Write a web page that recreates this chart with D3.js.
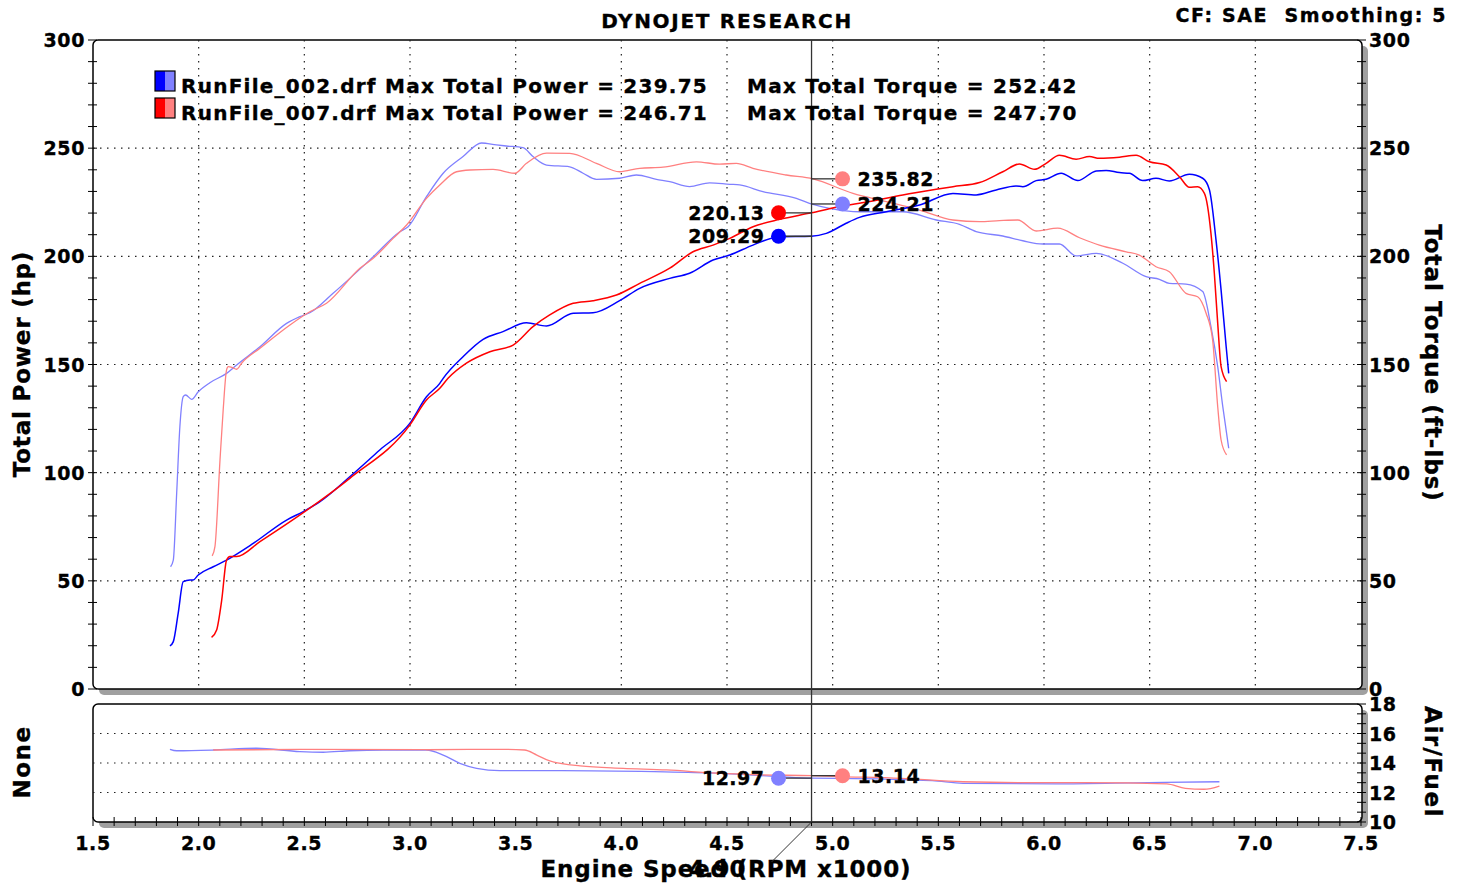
<!DOCTYPE html>
<html><head><meta charset="utf-8">
<script src="https://cdn.jsdelivr.net/npm/d3@7"></script>
<style>
body{margin:0;background:#fff;}
svg text{font-family:"DejaVu Sans",Verdana,sans-serif;font-weight:bold;fill:#000;stroke:#000;stroke-width:0.35px;}
</style>
</head><body>
<svg id="c" width="1465" height="884"></svg>
<script>
// ---------------- DATA ----------------
const xTickLabels = ["1.5","2.0","2.5","3.0","3.5","4.0","4.5","5.0","5.5","6.0","6.5","7.0","7.5"];
const powerTicks = [0,50,100,150,200,250,300];
const afrTicks = [10,12,14,16,18];
const cursorRpm = 4.90;

// Run 002 – Total Power (hp)
const run002PowerRpm = [1.864,1.880,1.903,1.927,1.959,1.974,1.998,2.069,2.132,2.258,2.416,2.495,2.574,2.715,2.857,2.999,3.078,3.141,3.157,3.251,3.346,3.440,3.551,3.646,3.772,3.866,3.992,4.087,4.229,4.323,4.434,4.513,4.623,4.749,4.899,4.970,5.064,5.127,5.254,5.411,5.569,5.679,5.774,5.868,5.900,5.963,6.010,6.081,6.160,6.247,6.294,6.357,6.404,6.467,6.530,6.593,6.688,6.751,6.783,6.814,6.838,6.862,6.874];
const run002Power    = [19.9,21.9,35.0,49.6,50.4,50.4,52.7,56.5,59.6,67.3,78.1,82.0,86.6,98.1,110.5,122.8,135.1,141.3,143.6,153.6,161.6,165.2,169.3,167.8,173.7,173.9,179.5,185.2,189.8,192.2,198.3,200.6,205.2,209.1,209.3,210.6,215.3,218.0,220.6,223.7,229.1,228.4,230.7,232.5,232.2,235.0,235.6,238.4,235.0,239.5,239.7,238.7,238.4,235.0,236.1,234.8,237.9,236.1,230.7,207.5,184.4,158.2,145.9];

// Run 007 – Total Power (hp)
const run007PowerRpm = [2.061,2.085,2.109,2.132,2.148,2.180,2.290,2.495,2.715,2.999,3.078,3.141,3.180,3.267,3.378,3.488,3.582,3.661,3.772,3.866,3.977,4.087,4.229,4.339,4.434,4.513,4.623,4.749,4.899,5.017,5.175,5.332,5.490,5.569,5.695,5.805,5.884,5.955,6.010,6.073,6.152,6.215,6.262,6.357,6.436,6.499,6.578,6.641,6.688,6.727,6.759,6.790,6.806,6.822,6.838,6.864];
const run007Power    = [23.9,27.3,41.1,59.6,61.2,61.2,68.1,81.5,97.4,122.0,133.6,139.0,143.6,150.6,155.9,159.0,167.5,172.9,178.3,179.5,182.1,187.5,194.5,202.1,205.2,208.3,213.7,217.1,220.1,222.7,225.3,228.4,231.0,232.2,234.1,239.1,242.7,240.2,243.0,246.7,244.9,246.1,245.3,245.8,246.7,243.7,242.2,236.8,231.9,232.2,229.1,210.6,192.2,169.0,149.0,142.1];

// Run 002 – Total Torque (ft-lbs)
const run002TorqueRpm = [1.867,1.880,1.896,1.911,1.927,1.938,1.967,1.998,2.053,2.132,2.180,2.290,2.416,2.479,2.526,2.636,2.826,2.952,2.991,3.078,3.157,3.251,3.338,3.409,3.456,3.535,3.582,3.646,3.756,3.819,3.882,3.992,4.071,4.166,4.229,4.323,4.418,4.513,4.560,4.670,4.828,4.907,4.985,5.127,5.332,5.490,5.600,5.679,5.805,5.900,5.994,6.073,6.152,6.247,6.373,6.483,6.546,6.593,6.672,6.751,6.790,6.822,6.846,6.874];
const run002Torque    = [56.5,59.6,90.6,121.1,135.1,135.9,133.9,137.4,141.6,145.9,149.8,158.2,169.0,172.1,173.9,182.9,199.8,211.4,213.7,227.6,238.4,246.1,252.4,251.5,251.0,250.2,246.1,242.2,241.4,238.4,235.6,236.1,237.6,235.6,234.5,232.2,234.0,233.3,233.0,229.9,226.8,224.0,222.2,220.6,220.6,216.8,214.8,211.4,209.4,207.2,205.7,205.7,200.2,201.4,196.8,190.6,189.4,187.5,187.2,183.7,167.5,149.0,130.5,111.3];

// Run 007 – Total Torque (ft-lbs)
const run007TorqueRpm = [2.064,2.077,2.101,2.116,2.132,2.140,2.156,2.180,2.203,2.290,2.432,2.526,2.605,2.763,2.826,2.920,2.984,3.078,3.141,3.220,3.283,3.393,3.496,3.551,3.646,3.756,3.882,3.992,4.087,4.197,4.355,4.465,4.544,4.623,4.781,4.907,5.096,5.254,5.411,5.569,5.695,5.789,5.876,5.963,6.065,6.168,6.262,6.389,6.451,6.530,6.593,6.672,6.727,6.767,6.798,6.822,6.838,6.864];
const run007Torque    = [61.5,65.8,105.9,129.0,147.5,149.0,148.7,147.8,150.6,157.5,168.3,174.4,178.3,194.5,199.1,208.3,214.5,226.8,233.0,239.1,239.9,240.2,238.4,243.0,247.7,247.6,243.0,239.1,240.7,241.2,243.7,242.6,243.0,240.7,237.6,235.8,229.1,225.3,221.4,216.8,216.0,216.5,216.8,211.7,213.0,208.6,205.2,202.1,200.6,195.2,192.9,182.9,181.3,173.7,161.3,130.5,115.1,108.2];

// Air/Fuel
const run002AfrRpm = [1.864,1.896,2.069,2.274,2.479,2.589,2.715,2.873,3.078,3.157,3.236,3.315,3.425,3.717,4.156,4.448,4.740,4.900,5.032,5.471,5.617,6.055,6.494,6.830];
const run002Afr    = [14.93,14.83,14.88,15.00,14.77,14.73,14.83,14.88,14.88,14.54,13.98,13.64,13.48,13.48,13.41,13.31,13.08,12.97,12.96,12.80,12.62,12.58,12.67,12.73];
const run007AfrRpm = [2.069,2.479,3.078,3.425,3.542,3.600,3.658,3.805,4.009,4.214,4.448,4.653,4.900,5.032,5.324,5.617,5.909,6.201,6.581,6.669,6.757,6.830];
const run007Afr    = [14.88,14.92,14.90,14.93,14.88,14.54,14.16,13.80,13.64,13.53,13.31,13.20,13.14,13.08,12.96,12.73,12.67,12.67,12.58,12.28,12.22,12.44];

const legendNames = ["RunFile_002.drf","RunFile_007.drf"];
const maxPower = ["239.75","246.71"];
const maxTorque = ["252.42","247.70"];
const cursorPower = ["209.29","220.13"];
const cursorTorque = ["224.21","235.82"];
const cursorAfr = ["12.97","13.14"];
const cursorPowerVal = [209.29,220.13];
const cursorTorqueVal = [224.21,235.82];
const cursorAfrVal = [12.97,13.14];

const dark = ["#0000ff","#ff0000"];
const light = ["#8080ff","#ff8080"];

// ---------------- DRAW ----------------
const svg = d3.select("#c");
const L = 93, R = 1362, T = 40, B = 689, T2 = 704, B2 = 822;
const x = d3.scaleLinear().domain([1.5,7.5]).range([L,1361]);
const y = d3.scaleLinear().domain([0,300]).range([B,T]);
const ya = d3.scaleLinear().domain([10,18]).range([B2,T2]);

function panel(y0,y1){
  svg.append("rect").attr("x",L+6).attr("y",y0+6).attr("width",R-L).attr("height",y1-y0)
    .attr("rx",5).attr("fill","#a0a0a0");
  svg.append("rect").attr("x",L).attr("y",y0).attr("width",R-L).attr("height",y1-y0)
    .attr("rx",5).attr("fill","#fff").attr("stroke","#000").attr("stroke-width",1.5);
}
panel(T,B);
panel(T2,B2);

const dots = "1.5,5.5";
[50,100,150,200,250].forEach(v=>{
  svg.append("line").attr("x1",L).attr("x2",R).attr("y1",y(v)).attr("y2",y(v))
    .attr("stroke","#222").attr("stroke-width",1.2).attr("stroke-dasharray",dots);
});
d3.range(2.0,7.01,0.5).forEach(v=>{
  svg.append("line").attr("x1",x(v)).attr("x2",x(v)).attr("y1",T).attr("y2",B)
    .attr("stroke","#222").attr("stroke-width",1.2).attr("stroke-dasharray",dots);
});
[12,14,16].forEach(v=>{
  svg.append("line").attr("x1",L).attr("x2",R).attr("y1",ya(v)).attr("y2",ya(v))
    .attr("stroke","#222").attr("stroke-width",1.2).attr("stroke-dasharray",dots);
});

// ticks
d3.range(0,301,10).forEach(v=>{
  svg.append("line").attr("x1",L-5).attr("x2",L+4).attr("y1",y(v)).attr("y2",y(v)).attr("stroke","#000").attr("stroke-width",1);
  svg.append("line").attr("x1",R-5).attr("x2",R+4).attr("y1",y(v)).attr("y2",y(v)).attr("stroke","#000").attr("stroke-width",1);
});
d3.range(0,13).forEach(i=>{
  const v = 10 + i*8/12;
  svg.append("line").attr("x1",R-5).attr("x2",R+4).attr("y1",ya(v)).attr("y2",ya(v)).attr("stroke","#000").attr("stroke-width",1);
});
d3.range(0,61).forEach(i=>{
  const v = 1.5 + i*0.1;
  svg.append("line").attr("x1",x(v)).attr("x2",x(v)).attr("y1",B2-5).attr("y2",B2+4).attr("stroke","#000").attr("stroke-width",1);
});

// axis labels
svg.append("g").selectAll("text").data(powerTicks).join("text")
  .attr("x",85).attr("y",d=>y(d)).attr("text-anchor","end").attr("dominant-baseline","central")
  .attr("font-size",19).attr("letter-spacing",0.6).text(d=>d);
svg.append("g").selectAll("text").data(powerTicks).join("text")
  .attr("x",1369).attr("y",d=>y(d)).attr("text-anchor","start").attr("dominant-baseline","central")
  .attr("font-size",19).attr("letter-spacing",0.6).text(d=>d);
svg.append("g").selectAll("text").data(afrTicks).join("text")
  .attr("x",1369).attr("y",d=>ya(d)).attr("text-anchor","start").attr("dominant-baseline","central")
  .attr("font-size",19).attr("letter-spacing",0.6).text(d=>d);
svg.append("g").selectAll("text").data(xTickLabels).join("text")
  .attr("x",d=>x(+d)).attr("y",850).attr("text-anchor","middle")
  .attr("font-size",19).attr("letter-spacing",0.6).text(d=>d);

svg.append("text").attr("transform","translate(30,364) rotate(-90)").attr("text-anchor","middle")
  .attr("font-size",23).attr("letter-spacing",0.8).text("Total Power (hp)");
svg.append("text").attr("transform","translate(1425,363) rotate(90)").attr("text-anchor","middle")
  .attr("font-size",23).attr("letter-spacing",1).text("Total Torque (ft-lbs)");
svg.append("text").attr("transform","translate(30,762) rotate(-90)").attr("text-anchor","middle")
  .attr("font-size",23).attr("letter-spacing",1.5).text("None");
svg.append("text").attr("transform","translate(1425,762) rotate(90)").attr("text-anchor","middle")
  .attr("font-size",23).attr("letter-spacing",1.5).text("Air/Fuel");
svg.append("text").attr("x",726).attr("y",877).attr("text-anchor","middle")
  .attr("font-size",23).attr("letter-spacing",0.85).text("Engine Speed (RPM x1000)");

// title & header
svg.append("text").attr("x",727).attr("y",28).attr("text-anchor","middle").attr("font-size",20).attr("letter-spacing",1.7).text("DYNOJET RESEARCH");
svg.append("text").attr("x",1447).attr("y",22).attr("text-anchor","end").attr("font-size",19).attr("letter-spacing",1.6).attr("xml:space","preserve").text("CF: SAE  Smoothing: 5");

// curves
const line = d3.line().curve(d3.curveMonotoneX);
function curve(rs, vs, ys, color, w){
  const pts = rs.map((r,i)=>[x(r), ys(vs[i])]);
  svg.append("path").attr("d",line(pts)).attr("fill","none").attr("stroke",color).attr("stroke-width",w);
}
curve(run002TorqueRpm, run002Torque, y, light[0], 1.3);
curve(run007TorqueRpm, run007Torque, y, light[1], 1.3);
curve(run002PowerRpm, run002Power, y, dark[0], 1.5);
curve(run007PowerRpm, run007Power, y, dark[1], 1.5);
curve(run002AfrRpm, run002Afr, ya, light[0], 1.3);
curve(run007AfrRpm, run007Afr, ya, light[1], 1.3);

// cursor
const cx = x(cursorRpm);
svg.append("line").attr("x1",cx).attr("x2",cx).attr("y1",T).attr("y2",B2).attr("stroke","#333").attr("stroke-width",1.3);
svg.append("line").attr("x1",cx).attr("x2",cx-40).attr("y1",B2).attr("y2",862).attr("stroke","#333").attr("stroke-width",1);
svg.append("text").attr("x",cx-66).attr("y",877).attr("text-anchor","end").attr("font-size",23).text(cursorRpm.toFixed(2));

function marker(val, ys, side, color, label){
  const my = ys(val);
  const mx = side<0 ? cx-33 : cx+31;
  svg.append("line").attr("x1",mx).attr("x2",cx).attr("y1",my).attr("y2",my).attr("stroke","#333").attr("stroke-width",1.3);
  svg.append("circle").attr("cx",mx).attr("cy",my).attr("r",7.5).attr("fill",color);
  svg.append("text").attr("x",side<0 ? mx-14 : mx+15).attr("y",my)
    .attr("text-anchor",side<0 ? "end" : "start").attr("dominant-baseline","central")
    .attr("font-size",19).attr("letter-spacing",0.5).text(label);
}
marker(cursorPowerVal[0], y, -1, dark[0], cursorPower[0]);
marker(cursorPowerVal[1], y, -1, dark[1], cursorPower[1]);
marker(cursorTorqueVal[0], y, 1, light[0], cursorTorque[0]);
marker(cursorTorqueVal[1], y, 1, light[1], cursorTorque[1]);
marker(cursorAfrVal[0], ya, -1, light[0], cursorAfr[0]);
marker(cursorAfrVal[1], ya, 1, light[1], cursorAfr[1]);

// legend
[0,1].forEach(i=>{
  const ly = 71 + i*27;
  svg.append("rect").attr("x",155).attr("y",ly).attr("width",10).attr("height",20).attr("fill",dark[i]);
  svg.append("rect").attr("x",165).attr("y",ly).attr("width",10).attr("height",20).attr("fill",light[i]);
  svg.append("rect").attr("x",155).attr("y",ly).attr("width",20).attr("height",20).attr("fill","none").attr("stroke","#000").attr("stroke-width",1.2);
  svg.append("text").attr("x",181).attr("y",ly+15).attr("dominant-baseline","central").attr("font-size",20).attr("letter-spacing",1.25)
    .text(`${legendNames[i]} Max Total Power = ${maxPower[i]}`);
  svg.append("text").attr("x",747).attr("y",ly+15).attr("dominant-baseline","central").attr("font-size",20).attr("letter-spacing",1.25)
    .text(`Max Total Torque = ${maxTorque[i]}`);
});
</script>
</body></html>
